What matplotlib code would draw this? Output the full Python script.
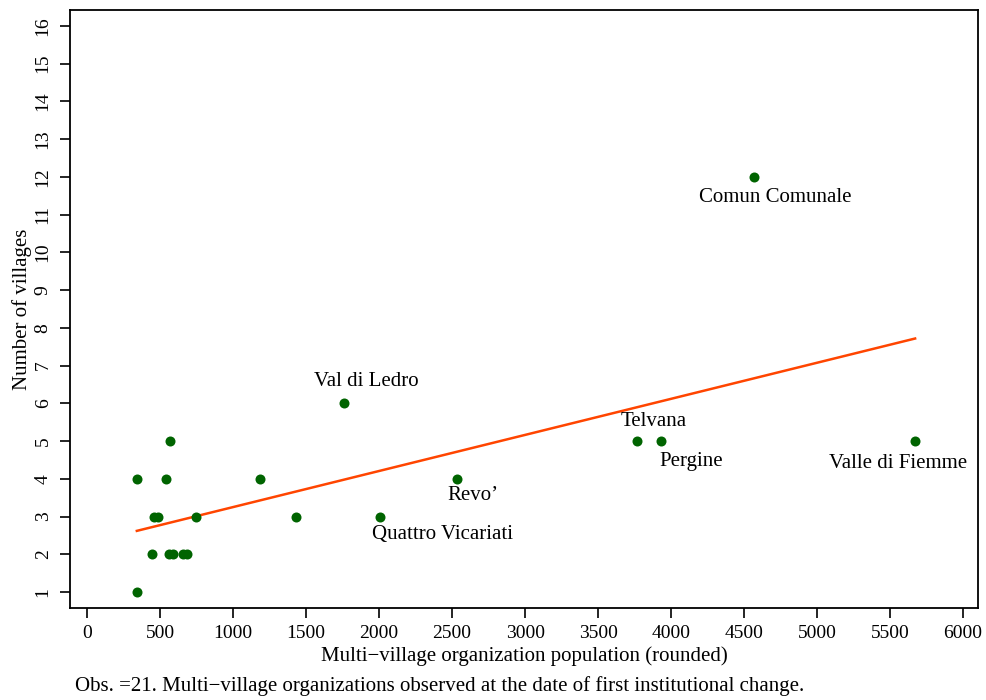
import numpy as np
import matplotlib.pyplot as plt

# data
population = [340, 340, 446, 460, 487, 542, 569, 562, 590, 658, 686,
              748, 1187, 1433, 1756, 2003, 2531, 3765, 3930, 4568, 5672]
villages = [1, 4, 2, 3, 3, 4, 5, 2, 2, 2, 2,
            3, 4, 3, 6, 3, 4, 5, 5, 12, 5]

names = ["Comun Comunale", "Val di Ledro", "Telvana", "Pergine",
         "Valle di Fiemme", "Revo’", "Quattro Vicariati"]
name_x = [4568, 1756, 3765, 3930, 5672, 2531, 2003]
name_y = [12, 6, 5, 5, 5, 4, 3]

plt.rcParams['font.family'] = ['Liberation Serif', 'DejaVu Serif']

fig = plt.figure(figsize=(9.87, 7), dpi=100)
ax = fig.add_axes([0.0709, 0.1314, 0.920, 0.8543])

ax.scatter(population, villages, s=52, color='#006400', zorder=3, linewidths=0)

# linear fit
b, a = np.polyfit(population, villages, 1)
xs = np.array([min(population), max(population)])
ax.plot(xs, a + b * xs, color='#ff4500', lw=1.8, zorder=2)

# label offsets in pixels (label centre relative to point)
offsets = [(21, -21), (23, 22), (17, 20), (30, -20), (-17, -22), (16, -17), (63, -18)]
for n, x, y, (dx, dy) in zip(names, name_x, name_y, offsets):
    ax.annotate(n, (x, y), xytext=(dx, dy), textcoords='offset pixels',
                ha='center', va='center', fontsize=15)

ax.set_xlim(-118, 6103)
ax.set_ylim(0.576, 16.42)
ax.set_xticks(range(0, 6001, 500))
ax.set_yticks(range(1, 17))
ax.tick_params(axis='both', labelsize=14, length=7.2, width=1.2, direction='out')
ax.tick_params(axis='x', pad=5)
ax.tick_params(axis='y', pad=6)
for lbl in ax.get_yticklabels():
    lbl.set_rotation(90)
    lbl.set_va('center')
for sp in ax.spines.values():
    sp.set_linewidth(1.3)

ax.set_xlabel('Multi−village organization population (rounded)', fontsize=15, labelpad=3)
ax.set_ylabel('Number of villages', fontsize=15, labelpad=2)

fig.text(0.076, 1 - 686 / 700, 'Obs. =21. Multi−village organizations observed at the date of first institutional change.',
         fontsize=15, ha='left', va='center')

fig.savefig('out.png', dpi=100)
